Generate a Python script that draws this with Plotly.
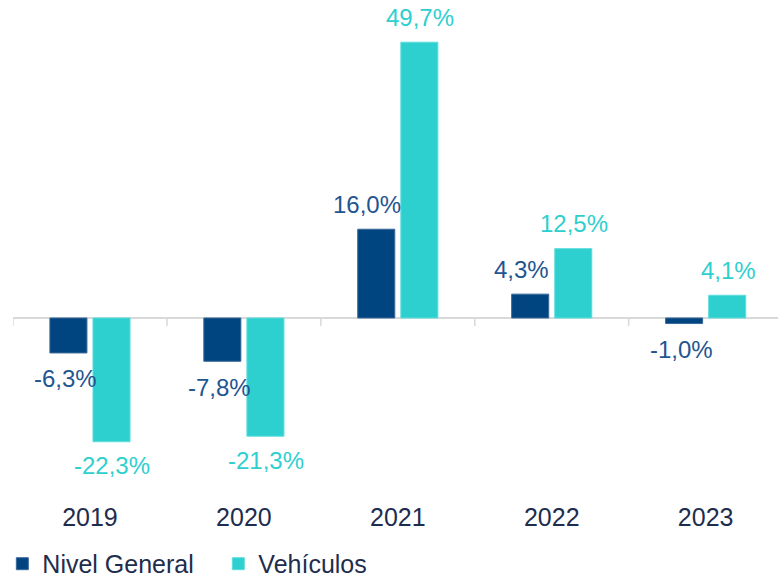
import plotly.graph_objects as go

years = ["2019", "2020", "2021", "2022", "2023"]
nivel_general = [-6.3, -7.8, 16.0, 4.3, -1.0]
vehiculos = [-22.3, -21.3, 49.7, 12.5, 4.1]
series_names = ["Nivel General", "Vehículos"]

DARK = "#004580"
TEAL = "#2ECFCF"
DARK_TXT = "#1F5590"
AXIS_TXT = "#1E2D4D"
FONT = "Liberation Sans, Arial, sans-serif"

fig = go.Figure()
fig.add_trace(go.Bar(x=list(range(len(years))), y=nivel_general, name=series_names[0],
                     marker=dict(color=DARK, line=dict(color="#3a6a9a", width=1))))
fig.add_trace(go.Bar(x=list(range(len(years))), y=vehiculos, name=series_names[1],
                     marker=dict(color=TEAL, line=dict(color="#5fdcdc", width=1))))

def fmt(v):
    return f"{v:.1f}".replace(".", ",") + "%"

offset = 0.146
anns = []
for i, v in enumerate(nivel_general):
    anns.append(dict(x=i - offset, y=v, xref="x", yref="y", text=fmt(v), showarrow=False,
                     yshift=25 if v >= 0 else -26, xshift=-8 if v >= 0 else -2,
                     font=dict(size=24, color=DARK_TXT, family=FONT)))
for i, v in enumerate(vehiculos):
    anns.append(dict(x=i + offset, y=v, xref="x", yref="y", text=fmt(v), showarrow=False,
                     yshift=25 if v >= 0 else -24,
                     font=dict(size=24, color=TEAL, family=FONT)))

shapes = []
for b in [-0.5, 0.5, 1.5, 2.5, 3.5]:
    shapes.append(dict(type="line", xref="x", yref="y", x0=b, x1=b, ysizemode="pixel",
                       yanchor=0, y0=0, y1=-8, line=dict(color="#d9d9d9", width=1.5)))

fig.update_layout(
    width=778, height=579,
    margin=dict(l=13, r=0, t=30, b=79),
    paper_bgcolor="white", plot_bgcolor="white",
    barmode="group", bargap=0.44, bargroupgap=0.14,
    font=dict(family=FONT, size=24, color=AXIS_TXT),
    xaxis=dict(range=[-0.5, 4.47], tickmode="array", tickvals=list(range(len(years))),
               ticktext=years, showgrid=False, showline=False, zeroline=False,
               tickfont=dict(size=25, color=AXIS_TXT), ticks=""),
    yaxis=dict(range=[-32.8, 51.9], showgrid=False, showticklabels=False,
               zeroline=True, zerolinecolor="#d9d9d9", zerolinewidth=1.5),
    legend=dict(orientation="h", xref="container", yref="container",
                x=0.003, xanchor="left", y=0.026, yanchor="middle",
                font=dict(size=25, color=AXIS_TXT), itemwidth=30,
                entrywidth=171, entrywidthmode="pixels", traceorder="normal"),
    annotations=anns, shapes=shapes, showlegend=True,
)

fig.write_html("out.html", config={"displayModeBar": False},
               post_script="document.body.style.margin='0';document.body.style.overflow='hidden';")
